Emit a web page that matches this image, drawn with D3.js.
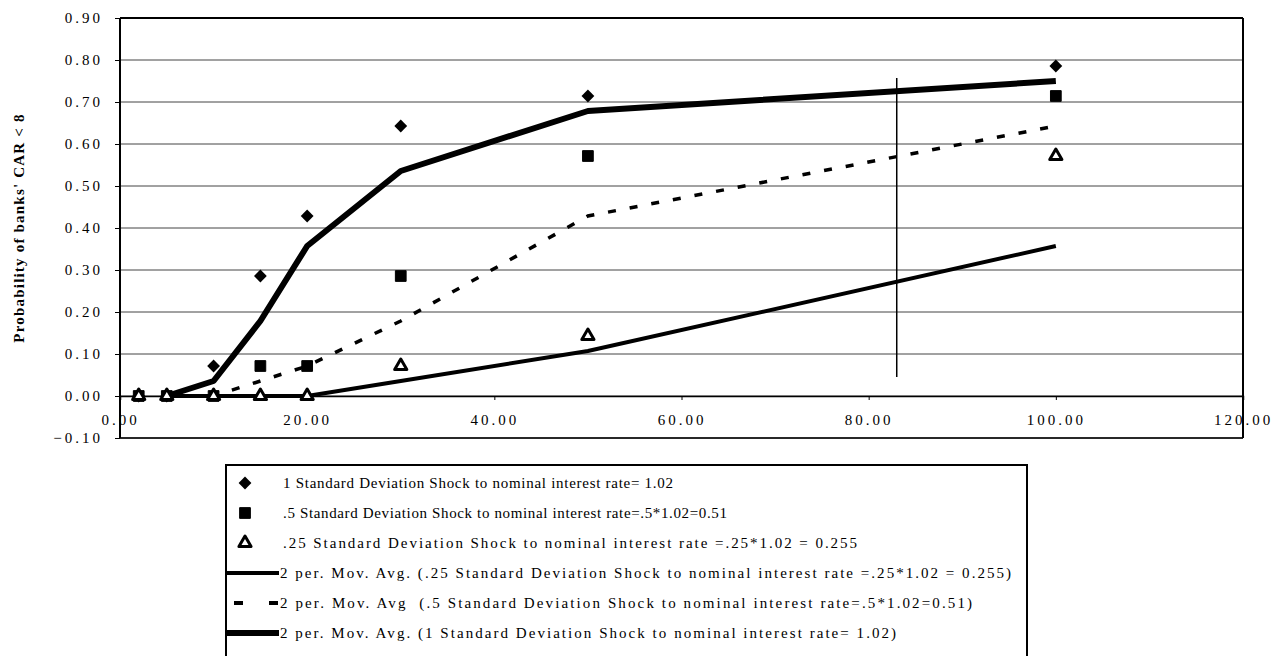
<!DOCTYPE html>
<html>
<head>
<meta charset="utf-8">
<script src="https://cdn.jsdelivr.net/npm/d3@7"></script>
<style>
  html, body { margin: 0; padding: 0; background: #fff; }
  svg { display: block; }
  text { font-family: "Liberation Serif", "Times New Roman", serif; fill: #000; }
</style>
</head>
<body>
<svg id="chart" width="1278" height="656"></svg>
<script>
// ---- data ----
const shockSize = [2, 5, 10, 15, 20, 30, 50, 100];
const sd100 = [0, 0, 0.0714, 0.2857, 0.4286, 0.6429, 0.7143, 0.7857];
const sd050 = [0, 0, 0, 0.0714, 0.0714, 0.2857, 0.5714, 0.7143];
const sd025 = [0, 0, 0, 0, 0, 0.0714, 0.1429, 0.5714];
const markerLine = { x: 83, y0: 0.045, y1: 0.757 };
const xTicks = [0, 20, 40, 60, 80, 100, 120];
const yTicks = [-0.1, 0, 0.1, 0.2, 0.3, 0.4, 0.5, 0.6, 0.7, 0.8, 0.9];
const yTitle = "Probability of banks' CAR < 8";
const legendLabels = [
  "1 Standard Deviation Shock to nominal interest rate= 1.02",
  ".5 Standard Deviation Shock to nominal interest rate=.5*1.02=0.51",
  ".25 Standard Deviation Shock to nominal interest rate =.25*1.02 = 0.255",
  "2 per. Mov. Avg. (.25 Standard Deviation Shock to nominal interest rate =.25*1.02 = 0.255)",
  "2 per. Mov. Avg  (.5 Standard Deviation Shock to nominal interest rate=.5*1.02=0.51)",
  "2 per. Mov. Avg. (1 Standard Deviation Shock to nominal interest rate= 1.02)"
];

// ---- layout (not data) ----
const legendTextWidths = [390, 444, 574, 731, 692, 616];

// ---- helpers ----
function movAvg(vals) {
  const out = [];
  for (let i = 1; i < vals.length; i++) out.push({ x: shockSize[i], y: (vals[i] + vals[i - 1]) / 2 });
  return out;
}
const pts = vals => vals.map((v, i) => ({ x: shockSize[i], y: v }));

const svg = d3.select("#chart");
const L = 120, R = 1243, T = 18, B = 438;
const x = d3.scaleLinear().domain([0, 120]).range([L, R]);
const y = d3.scaleLinear().domain([-0.1, 0.9]).range([B, T]);

// gridlines
svg.append("g").selectAll("line").data(yTicks).join("line")
  .attr("x1", L).attr("x2", R)
  .attr("y1", d => y(d)).attr("y2", d => y(d))
  .attr("stroke", "#444").attr("stroke-width", 1);

// y axis
const yAxis = svg.append("g").attr("transform", `translate(${L},0)`)
  .call(d3.axisLeft(y).tickValues(yTicks).tickFormat(d => d3.format(".2f")(d)).tickSize(5).tickPadding(12));
yAxis.select(".domain").remove();
yAxis.selectAll("text").style("font-size", "15px").style("letter-spacing", "3px");
yAxis.selectAll(".tick line").attr("stroke", "#000");

// x axis at y = 0
const xAxis = svg.append("g").attr("transform", `translate(0,${y(0)})`)
  .call(d3.axisBottom(x).tickValues(xTicks).tickFormat(d => d3.format(".2f")(d)).tickSize(4).tickPadding(14));
xAxis.select(".domain").attr("stroke", "#000").attr("stroke-width", 1.5);
xAxis.selectAll("text").style("font-size", "15px").style("letter-spacing", "3px");
xAxis.selectAll(".tick line").attr("stroke", "#000");

// frame
svg.append("line").attr("x1", L).attr("x2", R).attr("y1", T).attr("y2", T).attr("stroke", "#000").attr("stroke-width", 2);
svg.append("line").attr("x1", R).attr("x2", R).attr("y1", T).attr("y2", B).attr("stroke", "#000").attr("stroke-width", 2);
svg.append("line").attr("x1", L).attr("x2", L).attr("y1", T).attr("y2", B).attr("stroke", "#000").attr("stroke-width", 2);
svg.append("line").attr("x1", L).attr("x2", R).attr("y1", B).attr("y2", B).attr("stroke", "#000").attr("stroke-width", 1.5);

// y title
svg.append("text")
  .attr("transform", `translate(24,${(T + B) / 2}) rotate(-90)`)
  .attr("text-anchor", "middle")
  .style("font-size", "15px").style("font-weight", "bold").style("letter-spacing", "1.2px")
  .text(yTitle);

// vertical marker line
svg.append("line")
  .attr("x1", x(markerLine.x)).attr("x2", x(markerLine.x))
  .attr("y1", y(markerLine.y0)).attr("y2", y(markerLine.y1))
  .attr("stroke", "#000").attr("stroke-width", 1.5);

// moving average lines
const line = d3.line().x(d => x(d.x)).y(d => y(d.y));
svg.append("path").datum(movAvg(sd025)).attr("d", line)
  .attr("fill", "none").attr("stroke", "#000").attr("stroke-width", 4);
svg.append("path").datum(movAvg(sd050)).attr("d", line)
  .attr("fill", "none").attr("stroke", "#000").attr("stroke-width", 3.5).attr("stroke-dasharray", "8,14");
svg.append("path").datum(movAvg(sd100)).attr("d", line)
  .attr("fill", "none").attr("stroke", "#000").attr("stroke-width", 6).attr("stroke-linejoin", "round");

// markers
const diamond = d3.symbol().type(d3.symbolSquare).size(82);
const square = d3.symbol().type(d3.symbolSquare).size(115);
const tri = d3.symbol().type(d3.symbolTriangle).size(64);

svg.append("g").selectAll("path").data(pts(sd100)).join("path")
  .attr("transform", d => `translate(${x(d.x)},${y(d.y)}) rotate(45)`).attr("d", diamond).attr("fill", "#000");
svg.append("g").selectAll("path").data(pts(sd050)).join("path")
  .attr("transform", d => `translate(${x(d.x)},${y(d.y)})`).attr("d", square).attr("fill", "#000")
  .attr("stroke", "#000").attr("stroke-width", 1).attr("stroke-linejoin", "round");
svg.append("g").selectAll("path").data(pts(sd025)).join("path")
  .attr("transform", d => `translate(${x(d.x)},${y(d.y)})`).attr("d", tri).attr("fill", "#fff")
  .attr("stroke", "#000").attr("stroke-width", 3).attr("stroke-linejoin", "round");

// legend
const lg = svg.append("g");
lg.append("rect").attr("x", 226).attr("y", 465).attr("width", 801).attr("height", 200)
  .attr("fill", "#fff").attr("stroke", "#000").attr("stroke-width", 2);
const rowY = i => 483 + i * 30;
const mx = 245;
lg.append("path").attr("transform", `translate(${mx},${rowY(0)}) rotate(45)`).attr("d", diamond).attr("fill", "#000");
lg.append("path").attr("transform", `translate(${mx},${rowY(1)})`).attr("d", square).attr("fill", "#000")
  .attr("stroke", "#000").attr("stroke-linejoin", "round");
lg.append("path").attr("transform", `translate(${mx},${rowY(2)})`).attr("d", tri).attr("fill", "#fff")
  .attr("stroke", "#000").attr("stroke-width", 3).attr("stroke-linejoin", "round");
lg.append("line").attr("x1", 227).attr("x2", 279).attr("y1", rowY(3)).attr("y2", rowY(3))
  .attr("stroke", "#000").attr("stroke-width", 4);
lg.append("line").attr("x1", 234).attr("x2", 279).attr("y1", rowY(4)).attr("y2", rowY(4))
  .attr("stroke", "#000").attr("stroke-width", 4).attr("stroke-dasharray", "9,26");
lg.append("line").attr("x1", 227).attr("x2", 279).attr("y1", rowY(5)).attr("y2", rowY(5))
  .attr("stroke", "#000").attr("stroke-width", 6);
lg.selectAll("text.lab").data(legendLabels).join("text").attr("class", "lab")
  .attr("x", (d, i) => i < 3 ? 283 : 280)
  .attr("y", (d, i) => rowY(i)).attr("dy", "0.35em")
  .attr("textLength", (d, i) => legendTextWidths[i])
  .attr("lengthAdjust", "spacing")
  .style("font-size", "15px")
  .style("white-space", "pre")
  .text(d => d);
</script>
</body>
</html>
